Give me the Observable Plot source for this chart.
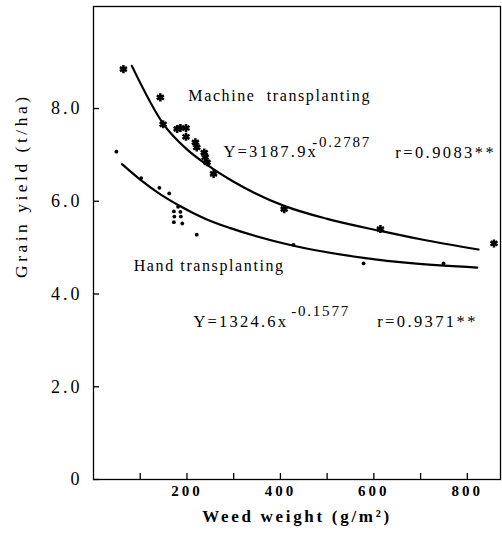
<!DOCTYPE html>
<html>
<head>
<meta charset="utf-8">
<script src="https://cdn.jsdelivr.net/npm/d3@7"></script>
<script src="https://cdn.jsdelivr.net/npm/@observablehq/plot@0.6"></script>
<style>
  html, body { margin: 0; padding: 0; background: white; }
</style>
</head>
<body>
<div id="chart"></div>
<script>
// ---- Data ----
const xMinorTicks = [100, 200, 300, 400, 500, 600, 700, 800];
const xTickLabels = [200, 400, 600, 800];
const yTicks = [0, 2, 4, 6, 8];

// Machine transplanting observations (weed weight g/m2, grain yield t/ha)
const machineX = [64, 143, 149, 179, 186, 198, 198, 218, 221, 237, 239, 243, 257, 408, 614, 857];
const machineY = [8.85, 8.24, 7.66, 7.56, 7.58, 7.58, 7.39, 7.27, 7.16, 7.05, 6.95, 6.84, 6.59, 5.83, 5.40, 5.09];

// Hand transplanting observations
const handX = [49, 102, 141, 162, 181, 172, 186, 173, 187, 172, 190, 221, 428, 578, 749];
const handY = [7.07, 6.50, 6.29, 6.17, 5.88, 5.78, 5.77, 5.67, 5.67, 5.55, 5.52, 5.28, 5.06, 4.66, 4.66];

// Fitted curves
const machineCurveX = [82, 150, 200, 241, 300, 408, 500, 614, 700, 824];
const machineCurveY = [8.92, 7.66, 7.12, 6.80, 6.42, 5.90, 5.62, 5.36, 5.18, 4.96];
const handCurveX = [61, 102, 140, 181, 240, 293, 428, 578, 685, 821];
const handCurveY = [6.80, 6.45, 6.17, 5.92, 5.62, 5.42, 5.04, 4.78, 4.66, 4.57];

// Annotation texts and their anchors in data units
const labelText = ["Machine  transplanting", "Hand transplanting"];
const labelX = [203, 86];
const labelY = [8.28, 4.61];
const eqText = ["Y=3187.9x", "Y=1324.6x"];
const eqX = [278, 214];
const eqY = [7.06, 3.41];
const expText = ["-0.2787", "-0.1577"];
const expX = [468, 423];
const expY = [7.28, 3.63];
const rText = ["r=0.9083**", "r=0.9371**"];
const rX = [646, 607];
const rY = [7.04, 3.41];

const xLabel = "Weed weight (g/m²)";
const yLabel = "Grain yield (t/ha)";

// ---- Build tables ----
const zip = (xs, ys) => xs.map((x, i) => ({x, y: ys[i]}));
const zipT = (ts, xs, ys) => ts.map((t, i) => ({t, x: xs[i], y: ys[i]}));
const machine = zip(machineX, machineY);
const hand = zip(handX, handY);
const machineCurve = zip(machineCurveX, machineCurveY);
const handCurve = zip(handCurveX, handCurveY);

const serif = "'Liberation Serif', 'Times New Roman', Times, serif";
const txt = (data, size, tag) => Plot.text(data, {x: "x", y: "y", text: "t", textAnchor: "start",
  fontSize: size, fontFamily: serif, fill: "black", ariaDescription: tag});

const chart = Plot.plot({
  width: 502,
  height: 537,
  marginLeft: 93,
  marginRight: 2,
  marginTop: 6,
  marginBottom: 58,
  style: {fontFamily: serif, background: "white", color: "black"},
  x: {domain: [0, 871]},
  y: {domain: [0, 10.2]},
  marks: [
    Plot.frame({stroke: "black", strokeWidth: 1.3}),
    Plot.tickX(xMinorTicks, {x: d => d, insetTop: 467, stroke: "black", strokeWidth: 1.3}),
    Plot.tickY(yTicks, {y: d => d, insetRight: 401, stroke: "black", strokeWidth: 1.3}),
    Plot.axisX(xTickLabels, {tickSize: 0, tickPadding: 6, fontSize: 15, fontWeight: "bold", fontFamily: serif, label: null}),
    Plot.axisY(yTicks, {tickSize: 0, tickPadding: 11, fontSize: 18, fontFamily: serif, label: null,
      tickFormat: d => d === 0 ? "0" : d.toFixed(1)}),
    Plot.line(machineCurve, {x: "x", y: "y", curve: "monotone-x", stroke: "black", strokeWidth: 2.2}),
    Plot.line(handCurve, {x: "x", y: "y", curve: "monotone-x", stroke: "black", strokeWidth: 2.2}),
    Plot.dot(machine, {x: "x", y: "y", symbol: "asterisk", r: 3.8, stroke: "black", strokeWidth: 2.5}),
    Plot.dot(hand, {x: "x", y: "y", r: 1.9, fill: "black", stroke: "none"}),
    txt(zipT(labelText, labelX, labelY), 16, "lab"),
    txt(zipT(eqText, eqX, eqY), 16.5, "eq"),
    txt(zipT(expText, expX, expY), 15, "exp"),
    txt(zipT(rText, rX, rY), 16.5, "r"),
    Plot.text([xLabel], {frameAnchor: "bottom", dy: 42, text: d => d, fontSize: 17, fontWeight: "bold", fontFamily: serif, fill: "black", ariaDescription: "xlab"}),
    Plot.text([yLabel], {frameAnchor: "left", dx: -72, dy: 35, rotate: -90, text: d => d, fontSize: 17.5, fontFamily: serif, fill: "black", ariaDescription: "ylab"})
  ]
});

document.getElementById("chart").appendChild(chart);

// letter spacing to match the wide scanned type
const setLS = (sel, v) => chart.querySelectorAll(sel).forEach(t => t.setAttribute("letter-spacing", v));
setLS('g[aria-label="x-axis tick label"] text', "3");
setLS('g[aria-label="y-axis tick label"] text', "3");
setLS('g[aria-description="lab"] text', "1.6");
setLS('g[aria-description="eq"] text', "2.2");
setLS('g[aria-description="exp"] text', "1.8");
setLS('g[aria-description="r"] text', "2.4");
setLS('g[aria-description="xlab"] text', "2.7");
setLS('g[aria-description="ylab"] text', "3.5");
</script>
</body>
</html>
